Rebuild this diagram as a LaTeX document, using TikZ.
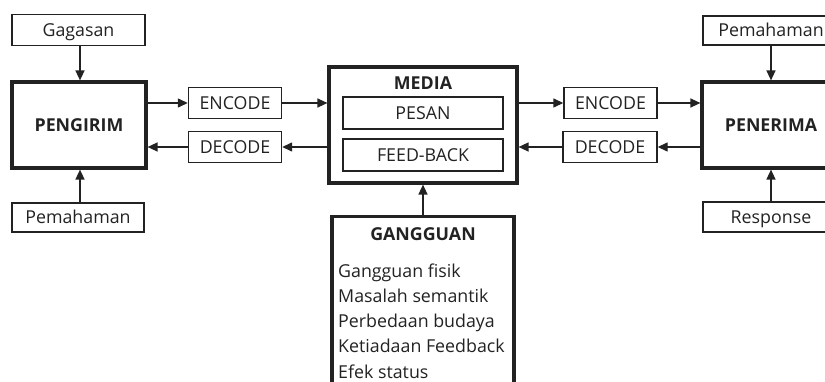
\documentclass[tikz,border=0pt]{standalone}
\usepackage{fontspec}
\setmainfont{Open Sans}
\usetikzlibrary{arrows.meta}
\definecolor{ink}{HTML}{222222}
\newcommand{\regfont}{\fontsize{17.8}{20}\selectfont}
\newcommand{\boldfont}{\bfseries\fontsize{17.8}{20}\selectfont}
\tikzset{
  thinbox/.style={draw=ink, line width=1.4pt, rectangle, inner sep=0pt, text=ink, font=\regfont, text height=12.7pt, text depth=0pt},
  thickbox/.style={draw=ink, line width=3.2pt, rectangle, inner sep=0pt, text=ink, font=\boldfont, text height=12.7pt, text depth=0pt},
  arr/.style={draw=ink, line width=1.4pt, -{Triangle[length=10pt,width=9pt]}},
  lbl/.style={text=ink, inner sep=0pt, font=\regfont},
}
\begin{document}
\begin{tikzpicture}[x=1pt,y=-1pt]
\useasboundingbox (0,0) rectangle (825,382);
\clip (0,0) rectangle (825,382);
% left
\node[thinbox, minimum width=133pt, minimum height=31pt] (gag) at (78.5,30) {Gagasan};
\node[thickbox, minimum width=134pt, minimum height=86pt] (peng) at (79,125) {PENGIRIM};
\node[thinbox, minimum width=132pt, minimum height=29pt] (pemL) at (78,217.5) {Pemahaman};
\node[thinbox, minimum width=93pt, minimum height=31pt] (encL) at (235,103) {ENCODE};
\node[thinbox, minimum width=93pt, minimum height=31pt] (decL) at (235,147) {DECODE};
% media
\node[thickbox, minimum width=188pt, minimum height=116pt] (media) at (423,125) {};
\node[lbl, font=\boldfont, anchor=base] (mediat) at (423,89.5) {MEDIA};
\node[thinbox, minimum width=160pt, minimum height=32pt] (pesan) at (423,113) {PESAN};
\node[thinbox, minimum width=160pt, minimum height=32pt] (feed) at (423,155) {FEED-BACK};
% right
\node[thinbox, minimum width=93pt, minimum height=31pt] (encR) at (610.5,103) {ENCODE};
\node[thinbox, minimum width=94pt, minimum height=31pt] (decR) at (610,147) {DECODE};
\node[thickbox, minimum width=138pt, minimum height=86pt] (pene) at (771,125) {PENERIMA};
\node[thinbox, minimum width=136pt, minimum height=29pt] (pemR) at (771,30.5) {Pemahaman};
\node[thinbox, minimum width=136pt, minimum height=30pt] (resp) at (771,217) {Response};
% gangguan
\node[thickbox, minimum width=182pt, minimum height=200pt, anchor=north] (gang) at (423,215) {};
\node[lbl, font=\boldfont, anchor=base] (gangt) at (423,241) {GANGGUAN};
\node[lbl, anchor=base west] (g1) at (338,277) {Gangguan fisik};
\node[lbl, anchor=base west] (g2) at (338,302.3) {Masalah semantik};
\node[lbl, anchor=base west] (g3) at (338,327.6) {Perbedaan budaya};
\node[lbl, anchor=base west] (g4) at (338,352.9) {Ketiadaan Feedback};
\node[lbl, anchor=base west] (g5) at (338,378.2) {Efek status};
% arrows
\draw[arr] (gag.south -| 80,0) -- (peng.north -| 80,0);
\draw[arr] (pemL.north -| 80,0) -- (peng.south -| 80,0);
\draw[arr] (peng.east |- encL) -- (encL.west);
\draw[arr] (encL.east) -- (media.west |- encL);
\draw[arr] (media.west |- decL) -- (decL.east);
\draw[arr] (decL.west) -- (peng.east |- decL);
\draw[arr] (media.east |- encR) -- (encR.west);
\draw[arr] (encR.east) -- (pene.west |- encR);
\draw[arr] (pene.west |- decR) -- (decR.east);
\draw[arr] (decR.west) -- (media.east |- decR);
\draw[arr] (pemR.south) -- (pene.north);
\draw[arr] (resp.north) -- (pene.south);
\draw[arr] (gang.north) -- (media.south);
\end{tikzpicture}
\end{document}
